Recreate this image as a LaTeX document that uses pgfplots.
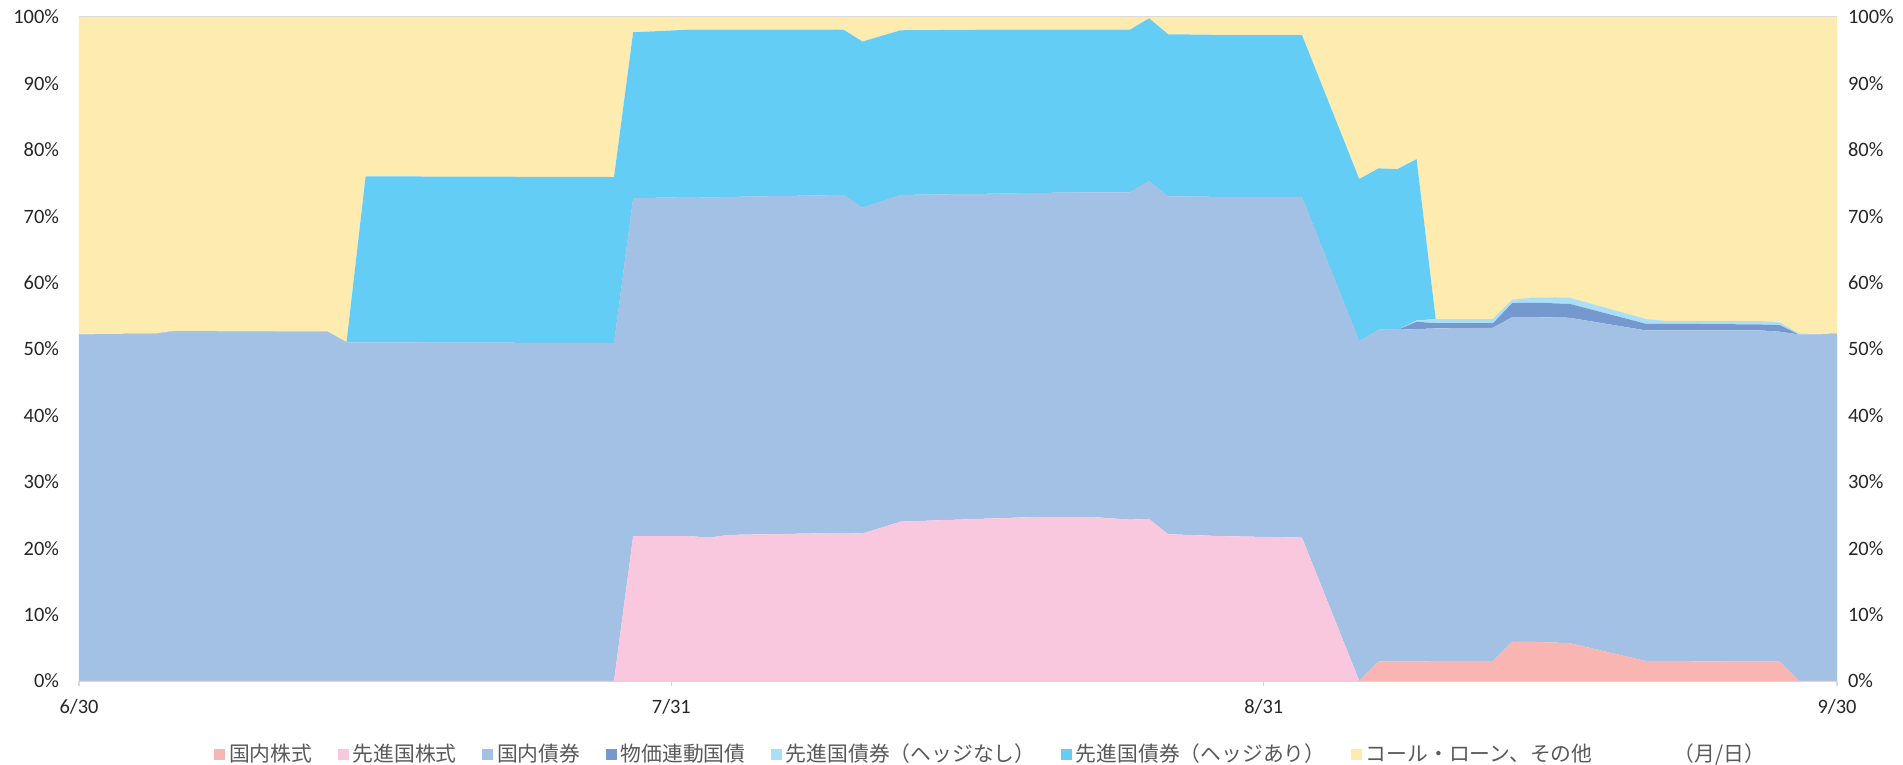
\documentclass[border=0pt]{standalone}
\usepackage{fontspec}
\setmainfont{Carlito}
\newfontfamily\jp{Noto Sans CJK JP}
\usepackage{pgfplots}
\usepackage{pgfplotstable}
\pgfplotsset{compat=1.18}
\definecolor{cRed}{RGB}{248,181,178}
\definecolor{cPink}{RGB}{249,200,222}
\definecolor{cBlue}{RGB}{162,193,229}
\definecolor{cDark}{RGB}{117,152,207}
\definecolor{cLight}{RGB}{169,224,248}
\definecolor{cCyan}{RGB}{99,205,245}
\definecolor{cYellow}{RGB}{254,235,176}
\definecolor{lineGray}{RGB}{217,217,217}
\definecolor{txtGray}{RGB}{89,89,89}

\pgfplotstableread{
day red pink blue dark light cyan yellow
0  0   0    52.2 0   0   0    47.8
4  0   0    52.3 0   0   0    47.7
5  0   0    52.7 0   0   0    47.3
13 0   0    52.6 0   0   0    47.4
14 0   0    51.0 0   0   0    49.0
15 0   0    51.0 0   0   25.0 24.0
28 0   0    50.9 0   0   25.0 24.1
29 0   21.8 50.9 0   0   25.0 2.3
32 0   21.8 51.1 0   0   25.2 1.9
33 0   21.6 51.2 0   0   25.3 1.9
34 0   22.0 50.9 0   0   25.2 1.9
40 0   22.3 50.9 0   0   24.9 1.9
41 0   22.2 49.1 0   0   25.0 3.7
43 0   24.0 49.2 0   0   24.8 2.0
48 0   24.5 48.9 0   0   24.7 1.9
50 0   24.7 48.8 0   0   24.6 1.9
53 0   24.7 48.9 0   0   24.5 1.9
55 0   24.3 49.3 0   0   24.5 1.9
56 0   24.4 50.9 0   0   24.5 0.2
57 0   22.1 50.9 0   0   24.4 2.6
60 0   21.8 51.1 0   0   24.4 2.7
64 0   21.6 51.3 0   0   24.4 2.7
67 0   0    51.2 0   0   24.4 24.4
68 2.9 0    50.0 0   0   24.3 22.8
69 2.9 0    50.0 0   0   24.2 22.9
70 2.9 0    50.1 1.1 0.2 24.3 21.4
71 3.0 0    50.1 0.8 0.6 0    45.5
74 3.0 0    50.2 0.7 0.6 0    45.5
75 5.9 0    48.9 2.1 0.5 0    42.6
76 5.9 0    48.9 2.2 0.7 0    42.3
78 5.7 0    49.0 2.1 0.9 0    42.3
82 3.0 0    49.8 1.0 0.7 0    45.5
83 3.0 0    49.8 1.0 0.4 0    45.8
88 2.9 0    49.9 0.9 0.5 0    45.8
89 2.9 0    49.7 1.0 0.4 0    46.0
90 0   0    52.2 0   0.1 0    47.7
91 0   0    52.2 0   0   0    47.8
92 0   0    52.3 0   0   0    47.7
}\data

\begin{document}
\begin{tikzpicture}
\path[use as bounding box] (-39.5pt,-42pt) rectangle (912pt,340.5pt);
\begin{axis}[
  at={(0pt,0pt)}, anchor=south west,
  scale only axis, width=879pt, height=332pt,
  xmin=0, xmax=92, ymin=0, ymax=100,
  clip=false,
  stack plots=y,
  axis line style={draw=none},
  xtick={0,31,62,92},
  xticklabels={6/30,7/31,8/31,9/30},
  xtick pos=bottom,
  tick align=outside,
  major tick length=2.5pt,
  xtick style={draw=lineGray, line width=0.6pt},
  ytick={0,10,...,100},
  ytick style={draw=none},
  ytick pos=left,
  yticklabel={\pgfmathprintnumber{\tick}\%},
  /pgf/number format/assume math mode=true,
  tick label style={font=\fontsize{10.2}{12}\selectfont, text=black!85},
  xticklabel style={yshift=-3pt},
  yticklabel style={xshift=-4pt},
  legend columns=7,
  legend style={draw=none, fill=none, at={(0.47,-0.11)}, anchor=center,
    font=\jp\fontsize{10.4}{12}\selectfont, text=txtGray,
    /tikz/every even column/.append style={column sep=10.7pt}},
  legend image code/.code={\fill[#1] (0pt,-2.75pt) rectangle (5.5pt,2.75pt);},
]
\addplot[fill=cRed, draw=none] table[x=day,y=red]{\data} \closedcycle;
\addlegendentry{国内株式}
\addplot[fill=cPink, draw=none] table[x=day,y=pink]{\data} \closedcycle;
\addlegendentry{先進国株式}
\addplot[fill=cBlue, draw=none] table[x=day,y=blue]{\data} \closedcycle;
\addlegendentry{国内債券}
\addplot[fill=cDark, draw=none] table[x=day,y=dark]{\data} \closedcycle;
\addlegendentry{物価連動国債}
\addplot[fill=cLight, draw=none] table[x=day,y=light]{\data} \closedcycle;
\addlegendentry{先進国債券（ヘッジなし）}
\addplot[fill=cCyan, draw=none] table[x=day,y=cyan]{\data} \closedcycle;
\addlegendentry{先進国債券（ヘッジあり）}
\addplot[fill=cYellow, draw=none] table[x=day,y=yellow]{\data} \closedcycle;
\addlegendentry{コール・ローン、その他}
\draw[lineGray, line width=0.6pt] (rel axis cs:0,0) -- (rel axis cs:1,0);
\draw[lineGray, line width=0.6pt] (rel axis cs:0,1) -- (rel axis cs:1,1);
\node[font=\jp\fontsize{10.4}{12}\selectfont, text=txtGray] at (axis description cs:0.933,-0.11) {（月/日）};
\end{axis}
\begin{axis}[
  at={(0pt,0pt)}, anchor=south west,
  scale only axis, width=879pt, height=332pt,
  xmin=0, xmax=92, ymin=0, ymax=100,
  hide x axis,
  axis y line*=right,
  y axis line style={draw=none},
  ytick={0,10,...,100},
  ytick style={draw=none},
  yticklabel={\pgfmathprintnumber{\tick}\%},
  /pgf/number format/assume math mode=true,
  tick label style={font=\fontsize{10.2}{12}\selectfont, text=black!85},
  yticklabel style={xshift=2pt},
]
\end{axis}
\end{tikzpicture}
\end{document}
